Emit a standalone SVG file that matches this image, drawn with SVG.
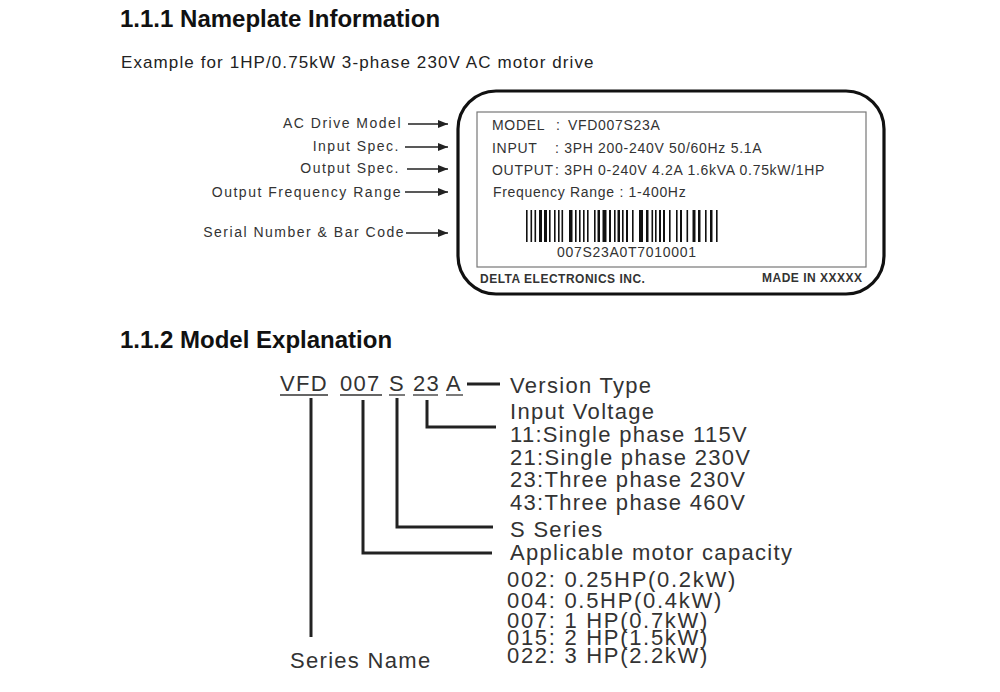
<svg xmlns="http://www.w3.org/2000/svg" width="1000" height="692" viewBox="0 0 1000 692">
<style>
text{font-family:"Liberation Sans",Arial,sans-serif;fill:#222}
.h{font-size:24px;font-weight:bold;fill:#111}
.sub{font-size:17px;letter-spacing:1.1px}
.lbl{font-size:14px;letter-spacing:1.5px;text-anchor:end;fill:#333}
.np{font-size:14px;letter-spacing:0.7px;fill:#333}
.npb{font-size:12px;font-weight:bold;letter-spacing:0.5px;fill:#333}
.m{font-size:22px;letter-spacing:1.3px;fill:#333}
.mc{font-size:22px;letter-spacing:1.7px;fill:#333}
.ar{stroke:#222;stroke-width:1.3;fill:none}
.ln{stroke:#222;stroke-width:3;fill:none}
.ul{stroke:#333;stroke-width:1.3}
.bar rect{fill:#111}
</style>
<defs>
<marker id="ah" viewBox="0 0 10 8" refX="10" refY="4" markerWidth="10" markerHeight="8" markerUnits="userSpaceOnUse" orient="auto">
<path d="M0,0 L10,4 L0,8 Z" fill="#222"/>
</marker>
</defs>
<rect width="1000" height="692" fill="#fff"/>

<g id="heading1"><text class="h" x="120" y="27">1.1.1 Nameplate Information</text></g>
<g id="subtitle"><text class="sub" x="121" y="68">Example for 1HP/0.75kW 3-phase 230V AC motor drive</text></g>

<g id="labels">
<text class="lbl" x="402" y="128">AC Drive Model</text>
<text class="lbl" x="400" y="151">Input Spec.</text>
<text class="lbl" x="400" y="173">Output Spec.</text>
<text class="lbl" x="402" y="197">Output Frequency Range</text>
<text class="lbl" x="405" y="237">Serial Number  &amp; Bar Code</text>
</g>

<g id="nameplate">
<rect x="458" y="91" width="426" height="203" rx="38" ry="38" fill="#fff" stroke="#111" stroke-width="3.2"/>
<rect x="477" y="112" width="389" height="155" fill="none" stroke="#777" stroke-width="1.2"/>
<text class="np" x="492" y="130">MODEL</text><text class="np" x="556" y="130">:</text><text class="np" x="568" y="130">VFD007S23A</text>
<text class="np" x="492" y="153">INPUT</text><text class="np" x="555" y="153">: 3PH 200-240V 50/60Hz 5.1A</text>
<text class="np" x="492" y="175">OUTPUT</text><text class="np" x="555" y="175">: 3PH 0-240V 4.2A 1.6kVA  0.75kW/1HP</text>
<text class="np" x="493" y="197">Frequency Range : 1-400Hz</text>
<g class="bar">
<rect x="526" y="210" width="1.6" height="32"/><rect x="530.5" y="210" width="1.6" height="32"/><rect x="534.5" y="210" width="1.6" height="32"/>
<rect x="539" y="210" width="3" height="32"/><rect x="544" y="210" width="3" height="32"/><rect x="549" y="210" width="1.6" height="32"/>
<rect x="554" y="210" width="1.6" height="32"/><rect x="558" y="210" width="1.6" height="32"/><rect x="561.5" y="210" width="1.6" height="32"/>
<rect x="569" y="210" width="3.5" height="32"/><rect x="575" y="210" width="1.6" height="32"/><rect x="579" y="210" width="1.6" height="32"/>
<rect x="583" y="210" width="1.6" height="32"/><rect x="587" y="210" width="1.6" height="32"/><rect x="594" y="210" width="1.6" height="32"/>
<rect x="597.5" y="210" width="2.5" height="32"/><rect x="602.5" y="210" width="4" height="32"/><rect x="609" y="210" width="2" height="32"/>
<rect x="614" y="210" width="1.6" height="32"/><rect x="617.5" y="210" width="2.5" height="32"/><rect x="622" y="210" width="1.6" height="32"/>
<rect x="626" y="210" width="2" height="32"/><rect x="632" y="210" width="1.6" height="32"/><rect x="639" y="210" width="4" height="32"/>
<rect x="646" y="210" width="2.5" height="32"/><rect x="651.5" y="210" width="1.6" height="32"/><rect x="655" y="210" width="1.6" height="32"/>
<rect x="659" y="210" width="2" height="32"/><rect x="663" y="210" width="2" height="32"/><rect x="669" y="210" width="1.6" height="32"/>
<rect x="676" y="210" width="1.6" height="32"/><rect x="680" y="210" width="2" height="32"/><rect x="686.5" y="210" width="1.6" height="32"/>
<rect x="692.5" y="210" width="3" height="32"/><rect x="698" y="210" width="2.5" height="32"/><rect x="705" y="210" width="1.6" height="32"/>
<rect x="710" y="210" width="2.5" height="32"/><rect x="716" y="210" width="1.6" height="32"/>
</g>
<text class="np" x="557" y="257">007S23A0T7010001</text>
<text class="npb" x="480" y="283">DELTA ELECTRONICS INC.</text>
<text class="npb" x="762" y="282">MADE IN XXXXX</text>
</g>

<g id="heading2"><text class="h" x="120" y="348">1.1.2 Model Explanation</text></g>

<g id="model-code">
<text class="m" x="280" y="391">VFD</text>
<text class="m" x="340" y="391">007</text>
<text class="m" x="389" y="391">S</text>
<text class="m" x="413" y="391">23</text>
<text class="m" x="446" y="391">A</text>
<line class="ul" x1="280" y1="395" x2="328" y2="395"/>
<line class="ul" x1="340" y1="395" x2="382" y2="395"/>
<line class="ul" x1="389" y1="395" x2="405" y2="395"/>
<line class="ul" x1="413" y1="395" x2="438" y2="395"/>
<line class="ul" x1="446" y1="395" x2="463" y2="395"/>
</g>

<g id="version-type"><text class="m" x="510" y="393">Version Type</text></g>
<g id="input-voltage">
<text class="m" x="510" y="419">Input Voltage</text>
<text class="m" x="510" y="442">11:Single phase 115V</text>
<text class="m" x="510" y="465">21:Single phase 230V</text>
<text class="m" x="510" y="487">23:Three phase 230V</text>
<text class="m" x="510" y="510">43:Three phase 460V</text>
</g>
<g id="s-series"><text class="m" x="510" y="537">S Series</text></g>
<g id="motor-capacity">
<text class="m" x="510" y="560">Applicable motor capacity</text>
<text class="mc" x="507" y="587">002: 0.25HP(0.2kW)</text>
<text class="mc" x="507" y="608">004: 0.5HP(0.4kW)</text>
<text class="mc" x="507" y="628">007: 1 HP(0.7kW)</text>
<text class="mc" x="507" y="645">015: 2 HP(1.5kW)</text>
<text class="mc" x="507" y="663">022: 3 HP(2.2kW)</text>
</g>
<g id="series-name"><text class="m" x="290" y="668">Series Name</text></g>

<g id="connectors">
<line class="ar" x1="408" y1="124" x2="448" y2="124" marker-end="url(#ah)"/>
<line class="ar" x1="405" y1="147" x2="448" y2="147" marker-end="url(#ah)" stroke-width="2"/>
<line class="ar" x1="407" y1="169" x2="448" y2="169" marker-end="url(#ah)" stroke-width="2"/>
<line class="ar" x1="405" y1="192" x2="448" y2="192" marker-end="url(#ah)"/>
<line class="ar" x1="406" y1="233" x2="448" y2="233" marker-end="url(#ah)"/>
<line class="ln" x1="467" y1="384" x2="500" y2="384"/>
<polyline class="ln" points="427,400 427,427 496,427"/>
<polyline class="ln" points="397,398 397,527 493,527"/>
<polyline class="ln" points="363,400 363,553 492,553"/>
<line class="ln" x1="311" y1="398" x2="311" y2="637"/>
</g>
</svg>
